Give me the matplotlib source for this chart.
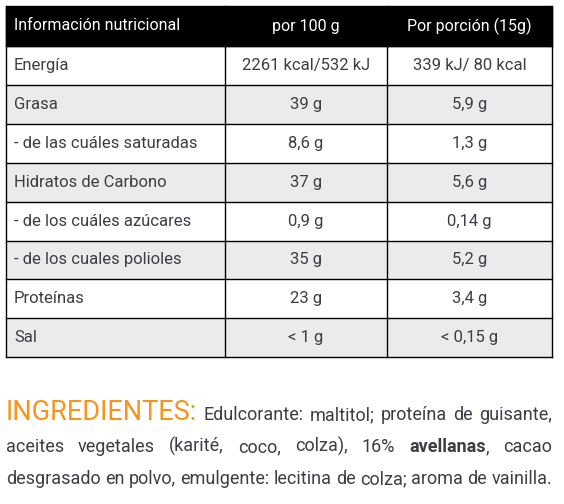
import matplotlib
matplotlib.use("Agg")
import matplotlib.pyplot as plt
from matplotlib.patches import Rectangle

headers = ["Información nutricional", "por 100 g", "Por porción (15g)"]
nutrients = ["Energía", "Grasa", "- de las cuáles saturadas", "Hidratos de Carbono",
             "- de los cuáles azúcares", "- de los cuales polioles", "Proteínas", "Sal"]
per_100g = ["2261 kcal/532 kJ", "39 g", "8,6 g", "37 g", "0,9 g", "35 g", "23 g", "< 1 g"]
per_portion = ["339 kJ/ 80 kcal", "5,9 g", "1,3 g", "5,6 g", "0,14 g", "5,2 g", "3,4 g", "< 0,15 g"]
ingredients_lines = [
    [("INGREDIENTES:", "orange"), ("Edulcorante:", "n"), ("maltitol;", "n"), ("proteína", "n"), ("de", "n"), ("guisante,", "n")],
    [("aceites", "n"), ("vegetales", "n"), ("(karité,", "n"), ("coco,", "n"), ("colza),", "n"), ("16%", "n"), ("avellanas", "b"), (",", "comma"), ("cacao", "n")],
    [("desgrasado", "n"), ("en", "n"), ("polvo,", "n"), ("emulgente:", "n"), ("lecitina", "n"), ("de", "n"), ("colza;", "n"), ("aroma", "n"), ("de", "n"), ("vainilla.", "n")],
]

FAM = ["Roboto", "DejaVu Sans"]
TXT = "#3d3d45"
fig = plt.figure(figsize=(5.64, 5.04), dpi=100)
ax = fig.add_axes([0, 0, 1, 1])
ax.set_xlim(0, 564); ax.set_ylim(504, 0); ax.axis("off")

x0, x1, x2, x3 = 6, 225, 387, 552
hy0, hy1 = 6, 46
rh = 38.9
ax.add_patch(Rectangle((x0, hy0), x3 - x0, hy1 - hy0, color="black"))
cx = [x0 + 8, (x1 + x2) / 2, (x2 + x3) / 2]
for i, h in enumerate(headers):
    ax.text(cx[i], (hy0 + hy1) / 2, h, color="white", fontsize=11.5, family=FAM,
            ha="left" if i == 0 else "center", va="center")
for r in range(len(nutrients)):
    y = hy1 + r * rh
    if r % 2 == 1:
        ax.add_patch(Rectangle((x0, y), x3 - x0, rh, color="#ebebeb", lw=0))
    ym = y + rh / 2
    ax.text(cx[0], ym, nutrients[r], color=TXT, fontsize=12, family=FAM, va="center")
    ax.text(cx[1], ym, per_100g[r], color=TXT, fontsize=12, family=FAM, va="center", ha="center")
    ax.text(cx[2], ym, per_portion[r], color=TXT, fontsize=12, family=FAM, va="center", ha="center")
ybot = hy1 + len(nutrients) * rh
for r in range(len(nutrients) + 1):
    ax.plot([x0, x3], [hy1 + r * rh] * 2, color="black", lw=1)
for x in [x0, x1, x2, x3]:
    ax.plot([x, x], [hy0, ybot], color="black", lw=1)

# ingredients, justified
fig.canvas.draw()
rend = fig.canvas.get_renderer()
inv = ax.transData.inverted()
lx0, lx1 = 6, 552
ys = [420, 452, 484]

def build(line, y, base):
    objs = []
    for w, s in line:
        kw = dict(family=FAM, fontsize=base, color=TXT, va="baseline", ha="left")
        if s == "orange":
            kw.update(fontsize=base * 1.5, color="#f7941d")
        if s == "b":
            kw.update(fontweight="bold")
        objs.append((ax.text(0, y, w, **kw), s))
    widths = []
    for t, s in objs:
        bb = t.get_window_extent(rend)
        widths.append(inv.transform((bb.x1, 0))[0] - inv.transform((bb.x0, 0))[0])
    return objs, widths

base = 13.5
while True:
    ok = True
    built = []
    for li, line in enumerate(ingredients_lines):
        objs, widths = build(line, ys[li], base)
        ngaps = sum(1 for t, s in objs[1:] if s != "comma")
        if lx1 - lx0 - sum(widths) < ngaps * 3.5:
            ok = False
        built.append((objs, widths, ngaps))
    if ok:
        break
    for objs, _, _ in built:
        for t, _ in objs:
            t.remove()
    base -= 0.25

for li, (objs, widths, ngaps) in enumerate(built):
    gap = (lx1 - lx0 - sum(widths)) / ngaps
    x = lx0
    for k, (t, s) in enumerate(objs):
        if k > 0 and s != "comma":
            x += gap
        t.set_x(x)
        x += widths[k]

fig.savefig("out.png", dpi=100)
